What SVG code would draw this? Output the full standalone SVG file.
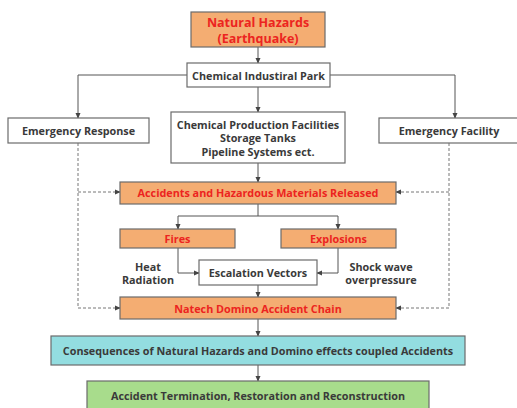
<svg xmlns="http://www.w3.org/2000/svg" width="517" height="408" viewBox="0 0 517 408">
<defs>
<style>
.box{stroke:#6b6b6b;stroke-width:1.2}
.w{fill:#ffffff}
.o{fill:#f4ad72}
.c{fill:#93dde0}
.g{fill:#a8dc8c}
text{font-family:"Open Sans","Noto Sans","DejaVu Sans",sans-serif;font-weight:bold;font-size:10.8px;fill:#3a3a3a;text-anchor:middle;dominant-baseline:central}
.r{fill:#ec2420}
.big{font-size:12.5px}
.ln{fill:none;stroke:#555;stroke-width:1}
.ds{fill:none;stroke:#777;stroke-width:1;stroke-dasharray:3,2}
</style>
<marker id="a" viewBox="0 0 8 8" refX="7" refY="4" markerWidth="6" markerHeight="6" orient="auto" markerUnits="userSpaceOnUse"><path d="M0,0.5 L8,4 L0,7.5 z" fill="#444"/></marker>
</defs>
<g id="connectors">
<path class="ln" d="M258,47 V63" marker-end="url(#a)"/>
<path class="ln" d="M187,75 H78 V118" marker-end="url(#a)"/>
<path class="ln" d="M330,75 H455 V118" marker-end="url(#a)"/>
<path class="ln" d="M258,87 V112" marker-end="url(#a)"/>
<path class="ln" d="M258,163 V182" marker-end="url(#a)"/>
<path class="ds" d="M78,143 V308 H120" marker-end="url(#a)"/>
<path class="ds" d="M78,192 H120" marker-end="url(#a)"/>
<path class="ds" d="M449,143 V308 H396" marker-end="url(#a)"/>
<path class="ds" d="M449,192 H396" marker-end="url(#a)"/>
<path class="ln" d="M258,204 V216"/>
<path class="ln" d="M178,216 H338"/>
<path class="ln" d="M178,216 V229" marker-end="url(#a)"/>
<path class="ln" d="M338,216 V229" marker-end="url(#a)"/>
<path class="ln" d="M178,248 V273 H199" marker-end="url(#a)"/>
<path class="ln" d="M338,248 V273 H317" marker-end="url(#a)"/>
<path class="ln" d="M258,285 V297" marker-end="url(#a)"/>
<path class="ln" d="M258,319 V336" marker-end="url(#a)"/>
<path class="ln" d="M258,365 V381" marker-end="url(#a)"/>
</g>
<g id="natural-hazards"><rect class="box o" x="191" y="12" width="134" height="35"/><text class="r big" x="258" y="22">Natural Hazards</text><text class="r big" x="258" y="38">(Earthquake)</text></g>
<g id="chemical-park"><rect class="box w" x="187" y="63" width="143" height="24"/><text x="258.5" y="75">Chemical Industiral Park</text></g>
<g id="emergency-response"><rect class="box w" x="8" y="118" width="141" height="25"/><text x="78.5" y="130.5">Emergency Response</text></g>
<g id="chemical-facilities"><rect class="box w" x="171" y="112" width="174" height="51"/><text x="258" y="124.5">Chemical Production Facilities</text><text x="258" y="137.5">Storage Tanks</text><text x="258" y="151">Pipeline Systems ect.</text></g>
<g id="emergency-facility"><rect class="box w" x="379" y="118" width="139" height="25"/><text x="449" y="130.5">Emergency Facility</text></g>
<g id="accidents"><rect class="box o" x="120" y="182" width="276" height="22"/><text class="r" x="258" y="192.5">Accidents and Hazardous Materials Released</text></g>
<g id="fires"><rect class="box o" x="120" y="229" width="115" height="19"/><text class="r" x="177.5" y="238.5">Fires</text></g>
<g id="explosions"><rect class="box o" x="281" y="229" width="115" height="19"/><text class="r" x="338.5" y="238.5">Explosions</text></g>
<g id="escalation"><rect class="box w" x="199" y="260" width="118" height="25"/><text x="258" y="272.5">Escalation Vectors</text></g>
<g id="heat-label"><text x="148" y="266">Heat</text><text x="148" y="279">Radiation</text></g>
<g id="shock-label"><text x="381" y="266">Shock wave</text><text x="381" y="279">overpressure</text></g>
<g id="natech"><rect class="box o" x="120" y="297" width="276" height="22"/><text class="r" x="258" y="308">Natech Domino Accident Chain</text></g>
<g id="consequences"><rect class="box c" x="51" y="336" width="414" height="29"/><text x="258" y="350.5">Consequences of Natural Hazards and Domino effects coupled Accidents</text></g>
<g id="termination"><rect class="box g" x="87" y="381" width="342" height="32"/><text x="258" y="395">Accident Termination, Restoration and Reconstruction</text></g>
</svg>
